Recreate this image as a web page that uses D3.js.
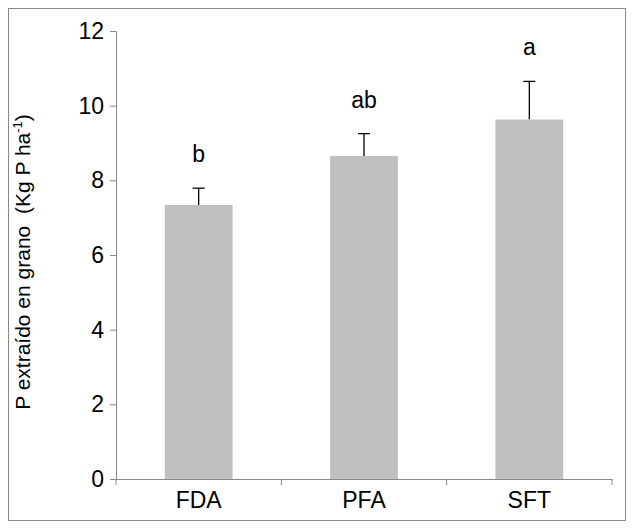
<!DOCTYPE html>
<html><head><meta charset="utf-8">
<script src="https://cdn.jsdelivr.net/npm/d3@7"></script>
<style>body{margin:0;background:#fff;font-family:"Liberation Sans",Arial,sans-serif;}</style>
</head><body><svg id="c" width="634" height="529"></svg>
<script>
const categories = ["FDA", "PFA", "SFT"];
const means = [7.34, 8.65, 9.63];
const errors = [0.45, 0.6, 1.02];
const letters = ["b", "ab", "a"];
const yTicks = [0, 2, 4, 6, 8, 10, 12];

const svg = d3.select("#c");
svg.append("rect").attr("x", 8.5).attr("y", 8.5).attr("width", 617).attr("height", 512)
  .attr("fill", "none").attr("stroke", "#888");

const mLeft = 116, mRight = 612, mTop = 31, mBottom = 479;
const x = d3.scaleBand().domain(categories).range([mLeft, mRight]);
const y = d3.scaleLinear().domain([0, 12]).range([mBottom, mTop]);
const barW = x.bandwidth() * 0.41;

const ya = svg.append("g").attr("transform", `translate(${mLeft},0)`)
  .call(d3.axisLeft(y).tickValues(yTicks).tickSize(6).tickPadding(6));
const xa = svg.append("g").attr("transform", `translate(0,${mBottom})`)
  .call(d3.axisBottom(x).tickSize(0).tickPadding(13));
[ya, xa].forEach(a => {
  a.select(".domain").attr("stroke", "#888");
  a.selectAll("line").attr("stroke", "#888");
  a.selectAll("text").attr("font-size", 23).attr("fill", "#000").attr("font-family", "Liberation Sans, Arial, sans-serif");
});
// category boundary ticks
svg.append("g").selectAll("line").data([mLeft, mLeft + x.step(), mLeft + 2 * x.step(), mRight]).enter()
  .append("line").attr("x1", d => d).attr("x2", d => d).attr("y1", mBottom).attr("y2", mBottom + 6).attr("stroke", "#888");

const g = svg.append("g").selectAll("g").data(categories).enter().append("g");
g.append("line")
  .attr("x1", d => x(d) + x.bandwidth() / 2).attr("x2", d => x(d) + x.bandwidth() / 2)
  .attr("y1", (d, i) => y(means[i])).attr("y2", (d, i) => y(means[i] + errors[i]))
  .attr("stroke", "#000").attr("stroke-width", 1.3);
g.append("line")
  .attr("x1", d => x(d) + x.bandwidth() / 2 - 6).attr("x2", d => x(d) + x.bandwidth() / 2 + 6)
  .attr("y1", (d, i) => y(means[i] + errors[i])).attr("y2", (d, i) => y(means[i] + errors[i]))
  .attr("stroke", "#000").attr("stroke-width", 1.3);
g.append("rect")
  .attr("x", d => x(d) + (x.bandwidth() - barW) / 2).attr("width", barW)
  .attr("y", (d, i) => y(means[i])).attr("height", (d, i) => mBottom - y(means[i]))
  .attr("fill", "#bfbfbf");
g.append("text")
  .attr("x", d => x(d) + x.bandwidth() / 2)
  .attr("y", (d, i) => y(means[i] + errors[i]) - 26)
  .attr("text-anchor", "middle").attr("font-size", 23).text((d, i) => letters[i]);

const lab = svg.append("text").attr("transform", "translate(30,262) rotate(-90)")
  .attr("text-anchor", "middle").attr("font-size", 21).style("white-space", "pre");
lab.append("tspan").text("P extraído en grano  (Kg P ha");
lab.append("tspan").attr("font-size", 13).attr("dy", -8).text("-1");
lab.append("tspan").attr("dy", 8).text(")");
</script></body></html>
